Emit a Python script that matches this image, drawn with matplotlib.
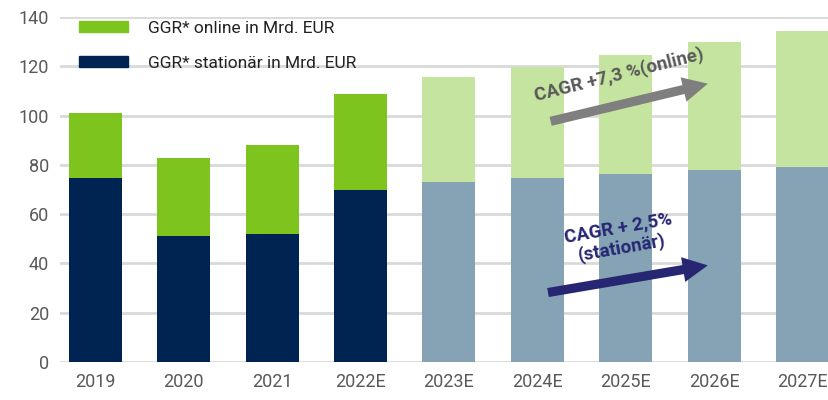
import numpy as np
import matplotlib
matplotlib.use('Agg')
import matplotlib.pyplot as plt

plt.rcParams['font.family'] = ['Roboto', 'DejaVu Sans']

# Daten (GGR in Mrd. EUR)
years = ['2019', '2020', '2021', '2022E', '2023E', '2024E', '2025E', '2026E', '2027E']
stationaer = [74.8, 51.2, 52.0, 69.8, 73.2, 74.8, 76.3, 77.9, 79.3]
total = [101.0, 82.8, 88.0, 108.8, 115.7, 119.7, 124.6, 129.9, 134.3]
online = [t - s for t, s in zip(total, stationaer)]
is_forecast = [False, False, False, False, True, True, True, True, True]

col_online = '#7EC41E'
col_stat = '#002451'
col_online_fc = '#C5E4A0'
col_stat_fc = '#85A3B5'

fig = plt.figure(figsize=(8.29, 4.0), dpi=100)
ax = fig.add_axes([60 / 829, 38 / 400, 769 / 829, 345 / 400])

x = np.arange(len(years))
c_stat = [col_stat_fc if f else col_stat for f in is_forecast]
c_onl = [col_online_fc if f else col_online for f in is_forecast]
ax.bar(x, stationaer, width=0.6, color=c_stat, zorder=3)
ax.bar(x, online, width=0.6, bottom=stationaer, color=c_onl, zorder=3)

ax.set_ylim(0, 140)
ax.set_xlim(-0.4, 8.3)
ax.set_yticks(range(0, 141, 20))
ax.set_xticks(x)
ax.set_xticklabels(years)
ax.tick_params(length=0, labelsize=13, colors='#595959', pad=8)
ax.grid(axis='y', color='#D9D9D9', linewidth=2, zorder=0)
for s in ax.spines.values():
    s.set_visible(False)

# Legende
handles = [plt.Rectangle((0, 0), 1, 1, color=col_online),
           plt.Rectangle((0, 0), 1, 1, color=col_stat)]
leg = ax.legend(handles, ['GGR* online in Mrd. EUR', 'GGR* stationär in Mrd. EUR'],
                loc='upper left', bbox_to_anchor=(0.005, 1.035), frameon=False,
                fontsize=12.5, handlelength=2.8, handleheight=0.55, handletextpad=1.15,
                labelspacing=1.15, labelcolor='#222222')

# CAGR-Pfeile
ax.annotate('', xy=(6.96, 113.2), xytext=(5.12, 97.4),
            arrowprops=dict(arrowstyle='simple,head_length=1.5,head_width=1.5,tail_width=0.55',
                            mutation_scale=12, color='#7F7F7F', lw=0), zorder=5)
ax.text(5.93, 116.5, 'CAGR +7,3 %(online)', rotation=14, ha='center', va='center',
        fontsize=13.5, fontweight='bold', color='#595959', zorder=5)

ax.annotate('', xy=(6.96, 39.4), xytext=(5.09, 28.0),
            arrowprops=dict(arrowstyle='simple,head_length=1.5,head_width=1.5,tail_width=0.55',
                            mutation_scale=12, color='#262673', lw=0), zorder=5)
ax.text(5.94, 50.3, 'CAGR + 2,5%\n(stationär)', rotation=10, ha='center', va='center',
        fontsize=13.5, fontweight='bold', color='#262673', linespacing=1.15, zorder=5)

fig.savefig('out.png', dpi=100)
